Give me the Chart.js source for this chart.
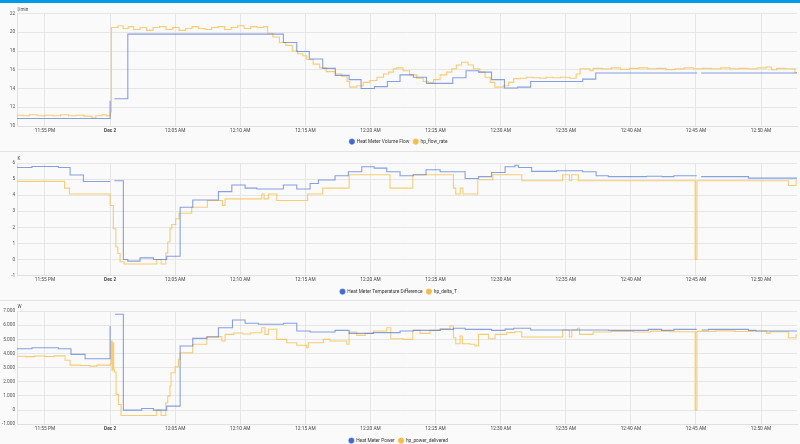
<!DOCTYPE html>
<html>
<head>
<meta charset="utf-8">
<script src="https://cdn.jsdelivr.net/npm/chart.js@4.4.1/dist/chart.umd.min.js"></script>
<style>
  html, body { margin: 0; padding: 0; background: #fafafa; }
  body { width: 800px; height: 444px; position: relative; overflow: hidden; font-family: Roboto, sans-serif; }
  .topbar { position: absolute; left: 0; top: 0; width: 800px; height: 3px; background: #039be5; }
  .sep { position: absolute; left: 0; width: 800px; height: 1px; background: #e4e4e4; }
  .box { position: absolute; left: 0; width: 800px; }
</style>
</head>
<body>
<div class="topbar"></div>
<div class="sep" style="top:151px"></div>
<div class="sep" style="top:300px"></div>
<div class="box" style="top:5.5px;height:148px"><canvas id="flowChart"></canvas></div>
<div class="box" style="top:153.5px;height:150px"><canvas id="deltaChart"></canvas></div>
<div class="box" style="top:303.5px;height:149px"><canvas id="powerChart"></canvas></div>
<script>
// x axis: minutes relative to midnight (Dec 2)
const xMin = -7.15;
const xMax = 52.76;
const xTickValues = [-5, 0, 5, 10, 15, 20, 25, 30, 35, 40, 45, 50];
const xTickLabels = ['11:55 PM', 'Dec 2', '12:05 AM', '12:10 AM', '12:15 AM', '12:20 AM',
  '12:25 AM', '12:30 AM', '12:35 AM', '12:40 AM', '12:45 AM', '12:50 AM'];

// --- volume flow (l/min) ---
const meterFlowT = [-7.15, 0, 0.05, 0.33, 1.36, 13.31, 14.34, 15.3, 16.33, 17.3, 18.36, 19.28, 20.3, 21.3,
  22.27, 23.3, 24.3, 26.32, 27.34, 28.3, 29.3, 30.29, 31.3, 32.3, 36.3, 37.3, 45.1, 45.15, 45.4, 52.76];
const meterFlowV = [10.8, 12.7, null, 12.9, 19.8, 18.9, 17.95, 17.15, 16.15, 15.4, 14.95, 14.0, 14.2, 14.75,
  15.45, 15.2, 14.55, 15.15, 15.9, 15.75, 14.95, 14.05, 14.15, 14.75, 15.0, 15.65, 15.65, null, 15.65, 15.65];

const hpFlowT = [-7.15, -6.7, -6.2, -5.6, -5.0, -4.4, -3.8, -3.2, -2.6, -2.0, -1.4, -1.1, -0.6, -0.3, 0.02, 0.1,
  0.6, 1.0, 1.4, 1.8, 2.3, 2.8, 3.3, 3.8, 4.3, 4.8, 5.3, 5.8, 6.3, 6.8, 7.3, 7.8, 8.3, 8.8, 9.3, 9.8, 10.3, 10.8,
  11.3, 11.8, 12.1, 12.5, 13.0, 13.5, 14.0, 14.4, 14.8, 15.1, 15.6, 16.1, 16.6, 17.3, 17.8, 18.2, 18.4, 18.95,
  19.45, 19.95, 20.5, 21.0, 21.4, 21.75, 22.0, 22.5, 23.0, 23.55, 24.05, 24.45, 24.85, 25.35, 25.85, 26.25, 26.6,
  27.0, 27.5, 27.9, 28.4, 28.8, 29.2, 29.55, 30.2, 30.6, 31.0, 31.5, 32.0, 32.5, 33.0, 33.5, 34.0, 34.6, 35.3,
  35.8, 36.1, 36.85, 37.1, 37.8, 38.5, 39.2, 39.9, 40.6, 41.3, 42.0, 42.7, 43.4, 44.1, 44.8, 45.5, 46.2, 46.9,
  47.6, 48.3, 49.0, 49.7, 50.4, 50.8, 51.2, 51.9, 52.6, 52.76];
const hpFlowV = [11.15, 11.1, 11.2, 11.1, 11.15, 11.1, 11.2, 11.1, 11.15, 11.05, 10.85, 11.1, 11.2, 11.1, 11.5, 20.5,
  20.7, 20.4, 20.6, 20.3, 20.5, 20.2, 20.5, 20.6, 20.3, 20.5, 20.2, 20.4, 20.6, 20.4, 20.3, 20.5, 20.6, 20.3, 20.5, 20.7, 20.4, 20.6,
  20.5, 20.6, 19.9, 19.5, 18.9, 18.6, 18.0, 17.7, 17.5, 17.1, 16.6, 16.2, 15.8, 15.55, 15.3, 14.75, 14.15, 14.3,
  14.65, 14.85, 15.2, 15.55, 15.75, 16.1, 16.2, 15.9, 15.45, 15.1, 14.75, 14.6, 14.95, 15.45, 15.75, 16.1, 16.5,
  16.8, 16.5, 16.1, 15.75, 15.2, 14.65, 14.15, 14.3, 14.65, 15.05, 15.1, 15.2, 15.15, 15.1, 15.2, 15.15, 15.2, 15.1,
  15.55, 16.1, 15.9, 16.15, 16.1, 16.2, 16.05, 16.15, 16.2, 16.1, 16.15, 16.0, 16.1, 16.2, 16.1, 16.15, 16.1, 16.2,
  16.1, 16.15, 16.1, 16.2, 16.3, 16.0, 16.15, 16.1, 15.7, 15.7];

// --- temperature difference (K) ---
const meterDeltaT = [-7.15, -6.0, -3.97, -3.07, -2.05, 0, 0.02, 0.33, 1.02, 1.36, 2.3, 3.33, 4.35, 5.38, 6.35, 8.32,
  9.35, 10.37, 11.27, 13.31, 14.34, 15.36, 16.0, 17.28, 18.3, 19.33, 20.28, 21.25, 22.27, 23.3, 24.27, 25.35,
  27.27, 28.3, 29.3, 30.34, 31.1, 31.36, 32.38, 34.3, 36.3, 37.33, 38.27, 41.2, 42.4, 43.3, 45.06, 45.1, 45.4,
  49.03, 52.76];
const meterDeltaV = [5.72, 5.78, 5.72, 5.25, 4.85, 4.85, null, 4.9, 0.0, -0.1, 0.1, 0.0, 0.2, 3.25, 3.7, 4.22,
  4.63, 4.44, 4.38, 4.63, 4.38, 4.73, 4.94, 5.21, 5.46, 5.77, 5.68, 5.46, 5.21, 5.27, 5.58, 5.46,
  5.04, 5.15, 5.41, 5.77, 5.86, 5.72, 5.48, 5.52, 5.46, 5.21, 5.15, 5.18, 5.15, 5.21, 5.21, null, 5.15,
  5.06, 5.06];

const hpDeltaT = [-7.15, -3.5, -3.12, 0, 0.25, 0.44, 0.59, 0.77, 1.08, 3.58, 3.92, 4.28, 4.43, 4.6, 4.74, 5.04,
  5.3, 6.27, 7.47, 8.63, 8.83, 11.65, 11.83, 12.16, 12.8, 15.17, 16.33, 18.36, 21.5, 23.25, 26.37, 26.55, 26.9,
  27.1, 28.24, 29.4, 31.62, 34.76, 35.28, 35.46, 35.97, 44.94, 45.07, 52.1, 52.69, 52.76];
const hpDeltaV = [4.86, 4.44, 4.07, 3.36, 1.91, 0.78, 0.37, -0.14, -0.28, 0.0, -0.28, 0.41, 1.09, 1.91, 2.18, 2.53,
  2.88, 3.25, 3.67, 3.36, 3.77, 4.07, 3.77, 4.07, 3.67, 4.07, 4.44, 5.27, 4.44, 5.27, 4.44, 4.07, 4.44,
  4.07, 4.96, 5.27, 4.9, 5.27, 4.9, 5.27, 4.9, 0.0, 4.9, 4.6, 4.9, 4.9];

// --- power (W) ---
const meterPowerT = [-7.15, -6.0, -3.97, -3.0, -1.92, 0, 0.02, 0.38, 1.02, 2.43, 3.33, 4.35, 5.38, 6.35, 7.43,
  8.32, 9.4, 10.37, 11.39, 13.31, 14.34, 15.36, 17.28, 18.36, 20.22, 22.27, 23.3, 25.35, 26.37, 27.27, 29.3,
  30.34, 31.0, 32.3, 38.27, 41.34, 42.36, 43.3, 45.06, 45.1, 45.45, 45.96, 49.03, 49.6, 52.76];
const meterPowerV = [4330, 4400, 4330, 3940, 3630, 5940, null, 6770, 0, 120, 0, 280, 4530, 5070, 5160,
  5820, 6360, 6130, 6060, 6130, 5590, 5520, 5630, 5420, 5470, 5590, 5630, 5700, 5780, 5700, 5630,
  5720, 5780, 5660, 5630, 5700, 5630, 5700, 5700, null, 5660, 5700, 5630, 5590, 5590];

const hpPowerT = [-7.15, -6.5, -5.8, -5.0, -4.3, -3.46, -3.07, -2.3, -1.54, -1.02, 0, 0.08, 0.15, 0.2, 0.28, 0.33,
  0.46, 0.64, 0.84, 3.58, 3.92, 4.28, 4.43, 4.6, 4.68, 4.99, 5.25, 5.38, 6.35, 7.43, 8.58, 8.83, 9.5, 10.2, 10.8,
  11.65, 11.9, 12.16, 12.8, 13.57, 14.34, 15.1, 15.23, 16.38, 16.9, 18.18, 18.36, 18.95, 19.59, 20.23, 21.25,
  21.56, 22.53, 23.25, 23.81, 24.58, 25.35, 26.1, 26.37, 26.55, 26.88, 27.06, 27.65, 28.03, 28.3, 29.06, 29.57,
  30.47, 31.1, 31.62, 34.76, 35.28, 35.46, 35.9, 36.06, 37.1, 38.5, 40.2, 41.5, 43.0, 44.94, 45.07, 46.5, 48.0,
  49.4, 50.43, 50.7, 52.1, 52.69, 52.76];
const hpPowerV = [3800, 3780, 3820, 3790, 3830, 3520, 3180, 3150, 3110, 3180, 3250, 4880, 2800, 4760, 2900, 2690,
  1110, 400, -380, 0, -380, 520, 990, 1700, 2640, 3060, 3590, 4050, 4650, 5190, 4880, 5350, 5450, 5380, 5460,
  5820, 5350, 5710, 5000, 4760, 4580, 4400, 4760, 5000, 4880, 4650, 5520, 5280, 5420, 5590, 5820,
  5040, 5000, 5630, 5420, 5630, 5750, 5940, 5110, 4690, 5230, 4690, 4650, 4530, 5350, 5040, 5350,
  5470, 5540, 5160, 5660, 5160, 5660, 5780, 5350, 5520, 5560, 5520, 5580, 5540, 0, 5560, 5600, 5550,
  5590, 5420, 5540, 5110, 5300, 5300];

const BLUE = '#4269d0';
const YELLOW = '#f4bd4a';
const BLUE_LINE = 'rgba(66,105,208,0.62)';
const YELLOW_LINE = 'rgba(244,189,74,0.75)';
const FONT = 'Roboto';

function toPoints(ts, vs) {
  return ts.map((t, i) => ({ x: t, y: vs[i] }));
}

function lineSet(label, ts, vs, color, lineColor) {
  return {
    label: label,
    data: toPoints(ts, vs),
    borderColor: lineColor,
    backgroundColor: color,
    borderWidth: 1.1,
    pointRadius: 0,
    pointHoverRadius: 0,
    stepped: true,
    spanGaps: false
  };
}

const unitLabel = {
  id: 'unitLabel',
  afterDraw(chart, args, opts) {
    const { ctx, chartArea } = chart;
    ctx.save();
    ctx.font = '4.6px ' + FONT;
    ctx.fillStyle = '#444';
    ctx.textBaseline = 'middle';
    ctx.fillText(opts.text, chartArea.left + 0.5, chartArea.top - 4);
    ctx.restore();
  }
};

function fmtThousands(v) {
  const s = Math.abs(v).toString().replace(/\B(?=(\d{3})+(?!\d))/g, '.');
  return (v < 0 ? '-' : '') + s;
}

function makeChart(id, unit, yMin, yMax, yStep, yFmt, datasets, padTop, axisHeight) {
  return new Chart(document.getElementById(id), {
    type: 'line',
    data: { datasets: datasets },
    plugins: [unitLabel],
    options: {
      responsive: true,
      maintainAspectRatio: false,
      animation: false,
      events: [],
      layout: { padding: { top: padTop, right: 3, left: 0, bottom: 0 } },
      scales: {
        x: {
          type: 'linear',
          min: xMin,
          max: xMax,
          afterBuildTicks: (scale) => { scale.ticks = xTickValues.map(v => ({ value: v })); },
          afterFit: (scale) => { scale.height = axisHeight; },
          grid: { color: '#e6e6e6', lineWidth: 1, drawTicks: false },
          border: { color: '#e0e0e0' },
          ticks: {
            padding: 1.6,
            color: '#444',
            maxRotation: 0,
            autoSkip: false,
            font: (ctx) => ({ family: FONT, size: 4.8, weight: ctx.tick && ctx.tick.value === 0 ? 'bold' : 'normal' }),
            callback: (value) => {
              const i = xTickValues.indexOf(value);
              return i >= 0 ? xTickLabels[i] : '';
            }
          }
        },
        y: {
          min: yMin,
          max: yMax,
          afterFit: (scale) => { scale.width = 17; },
          grid: { color: '#e6e6e6', lineWidth: 1, drawTicks: false },
          border: { color: '#e0e0e0' },
          ticks: {
            stepSize: yStep,
            padding: 1.8,
            color: '#555',
            font: { family: FONT, size: 4.8 },
            callback: yFmt
          }
        }
      },
      plugins: {
        unitLabel: { text: unit },
        tooltip: { enabled: false },
        legend: {
          position: 'bottom',
          labels: {
            usePointStyle: true,
            pointStyle: 'circle',
            boxHeight: 3.6,
            padding: 4,
            color: '#333',
            font: { family: FONT, size: 4.8 }
          }
        }
      }
    }
  });
}

makeChart('flowChart', 'l/min', 10, 22, 2, (v) => v, [
  lineSet('Heat Meter Volume Flow', meterFlowT, meterFlowV, BLUE, BLUE_LINE),
  lineSet('hp_flow_rate', hpFlowT, hpFlowV, YELLOW, YELLOW_LINE)
], 7.5, 9.2);

makeChart('deltaChart', 'K', -1, 6, 1, (v) => v, [
  lineSet('Heat Meter Temperature Difference', meterDeltaT, meterDeltaV, BLUE, BLUE_LINE),
  lineSet('hp_delta_T', hpDeltaT, hpDeltaV, YELLOW, YELLOW_LINE)
], 9, 9.6);

makeChart('powerChart', 'W', -1000, 7000, 1000, fmtThousands, [
  lineSet('Heat Meter Power', meterPowerT, meterPowerV, BLUE, BLUE_LINE),
  lineSet('hp_power_delivered', hpPowerT, hpPowerV, YELLOW, YELLOW_LINE)
], 7, 9.9);
</script>
</body>
</html>
